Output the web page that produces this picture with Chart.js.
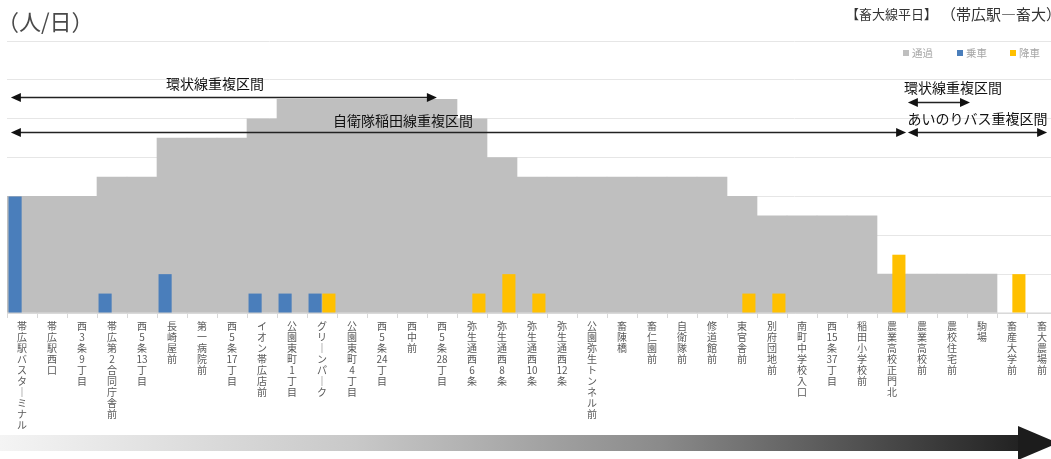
<!DOCTYPE html>
<html>
<head>
<meta charset="utf-8">
<script src="https://cdn.jsdelivr.net/npm/chart.js@4"></script>
<style>
  html, body { margin: 0; padding: 0; background: #fff; overflow: hidden; }
  #wrap { width: 1064px; height: 459px; position: relative; }
</style>
</head>
<body>
<div id="wrap"><canvas id="stop-chart"></canvas></div>
<script>
const ctx = document.getElementById("stop-chart");

var stops = [
  "帯広駅バスターミナル", "帯広駅西口", "西3条9丁目", "帯広第2合同庁舎前", "西5条13丁目",
  "長崎屋前", "第一病院前", "西5条17丁目", "イオン帯広店前", "公園東町1丁目",
  "グリーンパーク", "公園東町4丁目", "西5条24丁目", "西中前", "西5条28丁目",
  "弥生通西6条", "弥生通西8条", "弥生通西10条", "弥生通西12条", "公園弥生トンネル前",
  "畜陳橋", "畜仁園前", "自衛隊前", "修道館前", "東官舎前",
  "別府団地前", "南町中学校入口", "西15条37丁目", "稲田小学校前", "農業高校正門北",
  "農業高校前", "農校住宅前", "駒場", "畜産大学前", "畜大農場前"
];

// 通過 / 乗車 / 降車 (人/日)
var passing = [30, 30, 30, 35, 35, 45, 45, 45, 50, 55, 55, 55, 55, 55, 55, 50, 40, 35, 35, 35,
  35, 35, 35, 35, 30, 25, 25, 25, 25, 10, 10, 10, 10, 0, 0];
var boarding = [30, null, null, 5, null, 10, null, null, 5, 5, 5, null, null, null, null, null, null, null, null, null,
  null, null, null, null, null, null, null, null, null, null, null, null, null, null, null];
var alighting = [null, null, null, null, null, null, null, null, null, null, 5, null, null, null, null, 5, 10, 5, null, null,
  null, null, null, null, 5, 5, null, null, null, 15, null, null, null, 10, null];

// overlapping sections: [text, text x (category units), text y, arrow from, arrow to, arrow y]
var sections = [
  ["環状線重複区間", 6.93, 58.9, 0.13, 14.33, 55.7],
  ["自衛隊稲田線重複区間", 13.2, 49.5, 0.13, 29.97, 46.7],
  ["環状線重複区間", 31.53, 57.9, 30.03, 32.1, 54.4],
  ["あいのりバス重複区間", 32.35, 49.9, 30.03, 34.67, 46.7]
];

var FONT = '"Noto Sans CJK JP", "Noto Sans", sans-serif';

// vertical writing: one character per line, digit runs kept together
function vertical(s) {
  return s.match(/\d+|./g).map(function (c) { return c === "ー" ? "｜" : c; });
}

function arrowHead(c, x, y, dir) {
  c.beginPath();
  c.moveTo(x, y);
  c.lineTo(x - dir * 10, y - 4.5);
  c.lineTo(x - dir * 10, y + 4.5);
  c.closePath();
  c.fill();
}

const decor = {
  id: "decor",
  afterDraw(chart) {
    const c = chart.ctx;
    const area = chart.chartArea;
    const yS = chart.scales.y;
    const catW = area.width / stops.length;
    const px = (v) => area.left + v * catW;
    c.save();

    // titles
    c.textBaseline = "middle";
    c.textAlign = "left";
    c.fillStyle = "#4a4a4a";
    c.font = "22px " + FONT;
    c.fillText("（人/日）", -3, 22);
    c.fillStyle = "#333";
    c.font = "13px " + FONT;
    c.fillText("【畜大線平日】", 846, 14);
    c.font = "15px " + FONT;
    c.fillText("（帯広駅―畜大）", 941, 14);

    // legend
    var lx = [903, 957, 1010];
    c.font = "10.5px " + FONT;
    chart.data.datasets.forEach(function (ds, i) {
      c.fillStyle = ds.backgroundColor;
      c.fillRect(lx[i], 50, 6, 6);
      c.fillStyle = "#a6a6a6";
      c.fillText(ds.label, lx[i] + 9, 53.5);
    });

    // section arrows
    c.font = "14px " + FONT;
    c.textAlign = "center";
    sections.forEach(function (s) {
      c.fillStyle = "#111";
      c.fillText(s[0], px(s[1]), yS.getPixelForValue(s[2]));
      const y = Math.round(yS.getPixelForValue(s[5])) + 0.5;
      const x1 = px(s[3]), x2 = px(s[4]);
      c.strokeStyle = "#222";
      c.lineWidth = 1.5;
      c.beginPath();
      c.moveTo(x1 + 5, y);
      c.lineTo(x2 - 5, y);
      c.stroke();
      arrowHead(c, x1, y, -1);
      arrowHead(c, x2, y, 1);
    });

    // direction arrow at the bottom
    var g = c.createLinearGradient(0, 0, 1020, 0);
    g.addColorStop(0, "#f4f4f4");
    g.addColorStop(0.35, "#c8c8c8");
    g.addColorStop(0.65, "#8a8a8a");
    g.addColorStop(1, "#222");
    c.fillStyle = g;
    c.fillRect(0, 435, 1019, 16);
    c.fillStyle = "#1c1c1c";
    c.beginPath();
    c.moveTo(1018, 426);
    c.lineTo(1058, 443);
    c.lineTo(1018, 460);
    c.closePath();
    c.fill();
    c.restore();
  },
};

const myChart = new Chart(ctx, {
  type: "bar",
  data: {
    labels: stops.map(vertical),
    datasets: [
      {
        label: "通過",
        data: passing,
        backgroundColor: "#bfbfbf",
        grouped: false,
        barPercentage: 1,
        categoryPercentage: 1,
        order: 2,
      },
      {
        label: "乗車",
        data: boarding,
        backgroundColor: "#4a7ebb",
        barPercentage: 0.95,
        categoryPercentage: 0.92,
        order: 1,
      },
      {
        label: "降車",
        data: alighting,
        backgroundColor: "#ffc000",
        barPercentage: 0.95,
        categoryPercentage: 0.92,
        order: 1,
      },
    ],
  },
  options: {
    responsive: true,
    maintainAspectRatio: false,
    animation: false,
    layout: {
      padding: { top: 41, left: 7, right: 7, bottom: 0 },
    },
    plugins: {
      legend: { display: false },
      tooltip: { enabled: false },
    },
    scales: {
      x: {
        offset: true,
        grid: {
          offset: true,
          drawOnChartArea: false,
          tickLength: 5,
          color: "#d9d9d9",
        },
        border: { color: "#d9d9d9" },
        ticks: {
          autoSkip: false,
          maxRotation: 0,
          minRotation: 0,
          padding: 3,
          color: "#595959",
          font: { size: 10, family: FONT, lineHeight: 1.1 },
        },
        afterFit: function (axis) {
          axis.height = 146;
        },
      },
      y: {
        min: 0,
        max: 70,
        ticks: { display: false, stepSize: 10 },
        grid: { color: "#e6e6e6", drawTicks: false },
        border: { display: false },
        afterFit: function (axis) {
          axis.width = 0;
        },
      },
    },
  },
  plugins: [decor],
});
</script>
</body>
</html>
